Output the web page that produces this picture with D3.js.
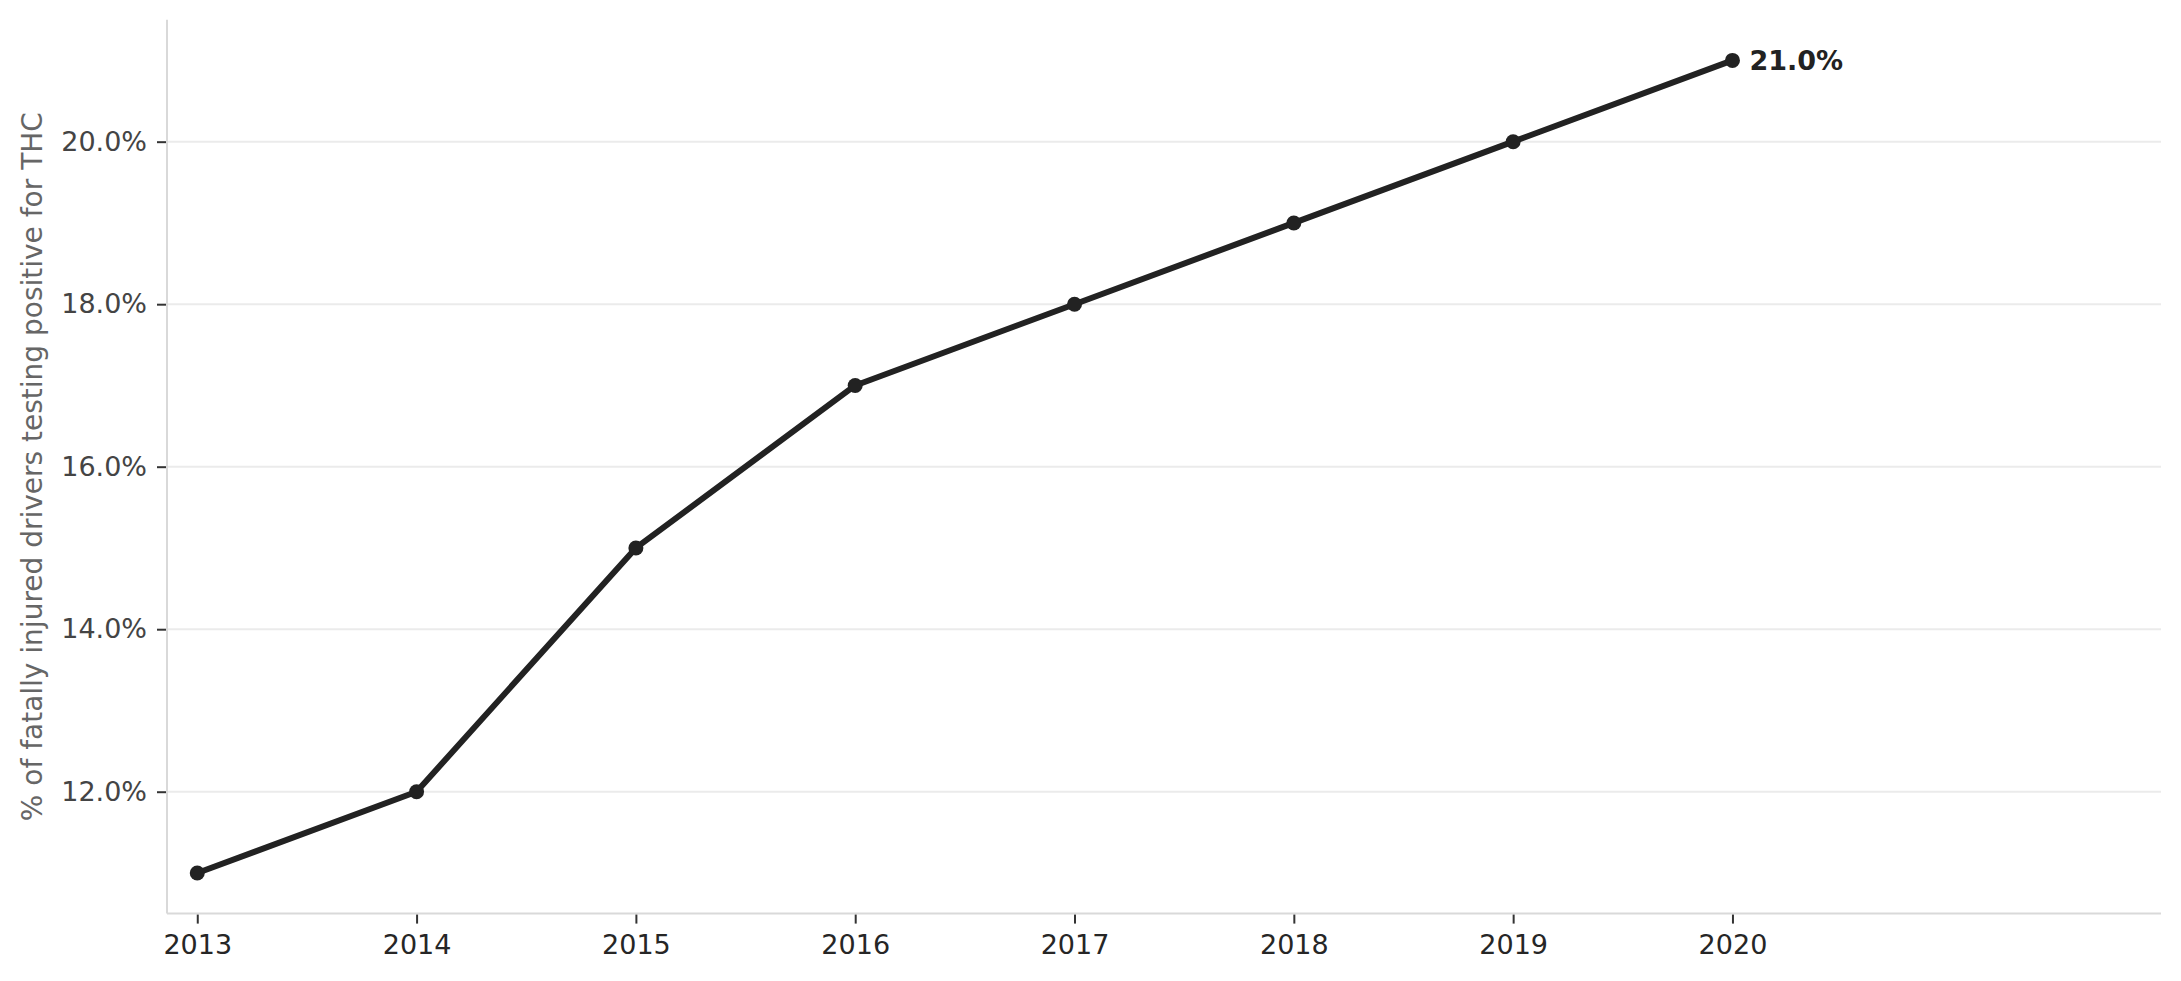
<!DOCTYPE html>
<html lang="en">
<head>
    <meta charset="utf-8">
    <title>THC positive drivers</title>
    <script type="text/javascript" src="https://cdnjs.cloudflare.com/ajax/libs/d3/7.8.5/d3.min.js"></script>
	<style>
	body { margin: 0; background: #fff; }
	svg text { font-family: "DejaVu Sans", sans-serif; }
	.grid line { stroke: #ebebeb; stroke-width: 2px; }
	.axis path { stroke: #d9d9d9; stroke-width: 2px; }
	.axis line { stroke: #333; stroke-width: 2px; }
	.axis text { font-size: 27px; }
	.axis--x text { fill: #262626; }
	.axis--y text { fill: #444; }
	</style>
</head>
<body>
    <script type="text/javascript">
      //values
      var years = [2013, 2014, 2015, 2016, 2017, 2018, 2019, 2020];
      var pct = [11, 12, 15, 17, 18, 19, 20, 21];
      var yTicks = [12, 14, 16, 18, 20];
      var yLabel = "% of fatally injured drivers testing positive for THC";

      var data = years.map(function(d, i) { return {year: d, value: pct[i]}; });

      var W = 2181, H = 981;
      var margin = {top: 19.8, right: 20, bottom: 67.4, left: 167};
      var width = W - margin.left - margin.right,
      height = H - margin.top - margin.bottom;

      var svg = d3.select("body").append("svg")
      .attr("width", W)
      .attr("height", H);

      var g = svg.append("g")
      .attr("transform", "translate(" + margin.left + "," + margin.top + ")");

      //scales
      var x = d3.scaleLinear()
      .domain([2012.862, 2021.954])
      .range([0, width]);

      var y = d3.scaleLinear()
      .domain([10.5, 21.5])
      .range([height, 0]);

      //gridlines
      g.append("g")
      .attr("class", "grid")
      .selectAll("line")
      .data(yTicks)
      .enter().append("line")
      .attr("x1", 0)
      .attr("x2", width)
      .attr("y1", function(d) { return y(d); })
      .attr("y2", function(d) { return y(d); });

      //axes
      var xAxis = g.append("g")
      .attr("class", "axis axis--x")
      .attr("transform", "translate(0," + height + ")")
      .call(d3.axisBottom(x).tickValues(years).tickFormat(d3.format("d")).tickSize(9).tickSizeOuter(0).tickPadding(12));

      var yAxis = g.append("g")
      .attr("class", "axis axis--y")
      .call(d3.axisLeft(y).tickValues(yTicks).tickFormat(function(d) { return d.toFixed(1) + "%"; }).tickSize(9).tickSizeOuter(0).tickPadding(11));

      //only left + bottom spines
      xAxis.select(".domain").attr("d", "M0,0H" + width);
      yAxis.select(".domain").attr("d", "M0,0V" + height);
      g.selectAll(".axis .tick line").attr("transform", function() {
        return d3.select(this.parentNode.parentNode).classed("axis--x") ? "translate(0,1)" : "translate(-1,0)";
      });

      //y label
      svg.append("text")
      .attr("transform", "translate(42," + (margin.top + height / 2) + ") rotate(-90)")
      .attr("text-anchor", "middle")
      .style("font-size", "28px")
      .style("fill", "#666")
      .text(yLabel);

      //line
      var line = d3.line()
      .x(function(d) { return x(d.year); })
      .y(function(d) { return y(d.value); });

      g.append("path")
      .datum(data)
      .attr("fill", "none")
      .attr("stroke", "#222")
      .attr("stroke-width", 6)
      .attr("stroke-linejoin", "round")
      .attr("d", line);

      g.selectAll(".dot")
      .data(data)
      .enter().append("circle")
      .attr("class", "dot")
      .attr("cx", function(d) { return x(d.year); })
      .attr("cy", function(d) { return y(d.value); })
      .attr("r", 7.5)
      .attr("fill", "#222");

      //last value label
      var last = data[data.length - 1];
      g.append("text")
      .attr("x", x(last.year) + 17)
      .attr("y", y(last.value))
      .attr("dy", "0.35em")
      .style("font-size", "27px")
      .style("font-weight", "bold")
      .style("fill", "#222")
      .text(last.value.toFixed(1) + "%");
    </script>
</body>
</html>
